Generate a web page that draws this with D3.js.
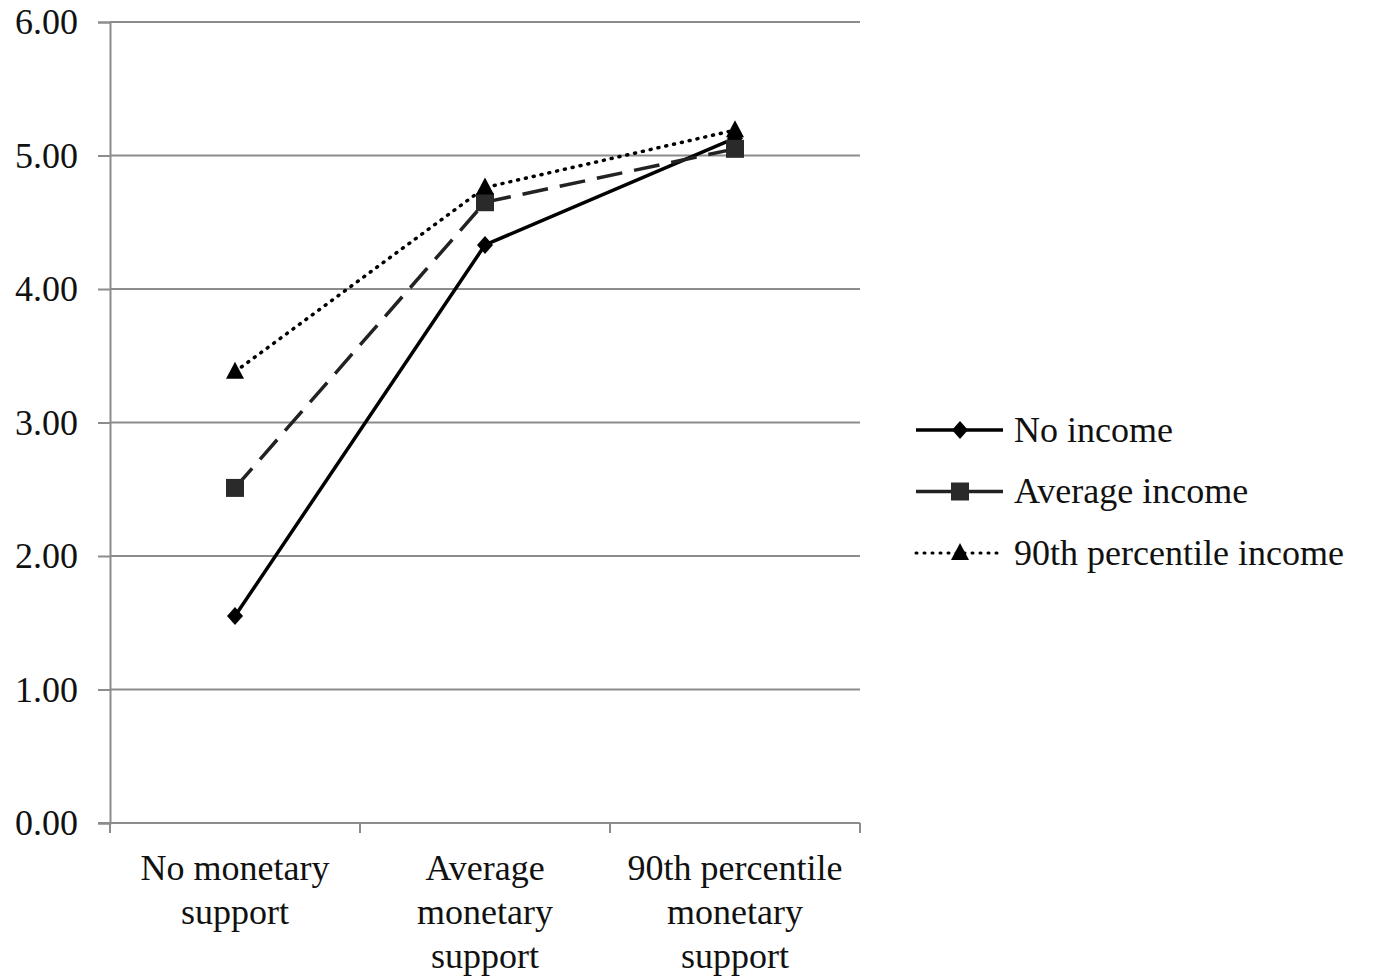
<!DOCTYPE html>
<html>
<head>
<meta charset="utf-8">
<script src="https://cdn.jsdelivr.net/npm/d3@7"></script>
<style>
  html, body { margin: 0; padding: 0; background: #fff; }
  svg text { font-family: "Liberation Serif", "Times New Roman", serif; fill: #111; }
</style>
</head>
<body>
<svg id="chart" width="1374" height="979"></svg>
<script>
// Categories on the x axis (each label split over lines)
const categories = ["No monetary support", "Average monetary support", "90th percentile monetary support"];
const categoryLines = [
  ["No monetary", "support"],
  ["Average", "monetary", "support"],
  ["90th percentile", "monetary", "support"]
];

// Series values
const noIncome = [1.55, 4.33, 5.13];
const averageIncome = [2.51, 4.65, 5.05];
const topIncome = [3.38, 4.76, 5.19];

const seriesNames = ["No income", "Average income", "90th percentile income"];
const yTicks = [0, 1, 2, 3, 4, 5, 6];

const series = [
  { name: seriesNames[0], values: noIncome, marker: "diamond", dash: null, color: "#000", legendDash: null },
  { name: seriesNames[1], values: averageIncome, marker: "square", dash: "26,12", color: "#222", legendDash: null },
  { name: seriesNames[2], values: topIncome, marker: "triangle", dash: "1,7", color: "#000", legendDash: "1,7" }
];

const svg = d3.select("#chart");
const plot = { left: 110, right: 860, top: 22, bottom: 823 };

const x = d3.scaleBand().domain(categories).range([plot.left, plot.right]);
const y = d3.scaleLinear().domain([0, 6]).range([plot.bottom, plot.top]);

// Horizontal gridlines
svg.append("g").selectAll("line").data(yTicks.filter(d => d > 0)).join("line")
  .attr("x1", plot.left).attr("x2", plot.right)
  .attr("y1", d => y(d)).attr("y2", d => y(d))
  .attr("stroke", "#8c8c8c").attr("stroke-width", 2);

// Y axis
const yAxis = d3.axisLeft(y).tickValues(yTicks).tickFormat(d3.format(".2f")).tickSize(12).tickPadding(20);
const gy = svg.append("g").attr("transform", `translate(${plot.left},0)`).call(yAxis);
gy.select(".domain").attr("stroke", "#8c8c8c").attr("stroke-width", 2);
gy.selectAll(".tick line").attr("stroke", "#8c8c8c").attr("stroke-width", 2);
gy.selectAll(".tick text").attr("font-size", 36).attr("fill", "#111")
  .style("font-family", "'Liberation Serif', serif");

// X axis: ticks at band boundaries
const gx = svg.append("g");
gx.append("line").attr("x1", plot.left - 12).attr("x2", plot.right).attr("y1", plot.bottom).attr("y2", plot.bottom)
  .attr("stroke", "#8c8c8c").attr("stroke-width", 2);
const boundaries = categories.map(c => x(c)).concat([x(categories[categories.length - 1]) + x.bandwidth()]);
gx.selectAll("line.tick").data(boundaries).join("line").attr("class", "tick")
  .attr("x1", d => d).attr("x2", d => d).attr("y1", plot.bottom).attr("y2", plot.bottom + 10)
  .attr("stroke", "#8c8c8c").attr("stroke-width", 2);
const labels = gx.selectAll("text.cat").data(categories).join("text").attr("class", "cat")
  .attr("text-anchor", "middle").attr("font-size", 36)
  .attr("x", d => x(d) + x.bandwidth() / 2).attr("y", 880);
labels.each(function (d, i) {
  d3.select(this).selectAll("tspan").data(categoryLines[i]).join("tspan")
    .attr("x", x(d) + x.bandwidth() / 2)
    .attr("dy", (t, j) => j === 0 ? 0 : 44)
    .text(t => t);
});

// Marker shapes
function markerPath(type) {
  if (type === "diamond") return "M0,-9L8,0L0,9L-8,0Z";
  if (type === "square") return "M-9,-9H9V9H-9Z";
  return "M0,-10L9,7H-9Z";
}

const cx = d => x(d) + x.bandwidth() / 2;
const line = d3.line().x(d => cx(d.cat)).y(d => y(d.v));

series.forEach(s => {
  const pts = s.values.map((v, i) => ({ cat: categories[i], v }));
  const g = svg.append("g");
  g.append("path").datum(pts).attr("d", line)
    .attr("fill", "none").attr("stroke", s.color).attr("stroke-width", 3.5)
    .attr("stroke-linecap", s.dash === "1,7" ? "round" : "butt")
    .attr("stroke-dasharray", s.dash);
  g.selectAll("path.m").data(pts).join("path").attr("class", "m")
    .attr("d", markerPath(s.marker))
    .attr("transform", d => `translate(${cx(d.cat)},${y(d.v)})`)
    .attr("fill", s.marker === "square" ? "#2a2a2a" : "#000");
});

// Legend
const legend = svg.append("g");
series.forEach((s, i) => {
  const ly = 430 + i * 61.5;
  legend.append("line").attr("x1", 916).attr("x2", 1003).attr("y1", ly).attr("y2", ly)
    .attr("stroke", s.color).attr("stroke-width", s.legendDash ? 3 : 3.5)
    .attr("stroke-linecap", s.legendDash ? "round" : "butt")
    .attr("stroke-dasharray", s.legendDash);
  legend.append("path").attr("d", markerPath(s.marker))
    .attr("transform", `translate(960,${ly})`)
    .attr("fill", s.marker === "square" ? "#2a2a2a" : "#000");
  legend.append("text").attr("x", 1014).attr("y", ly).attr("dy", "0.33em")
    .attr("font-size", 36).text(s.name);
});
</script>
</body>
</html>
